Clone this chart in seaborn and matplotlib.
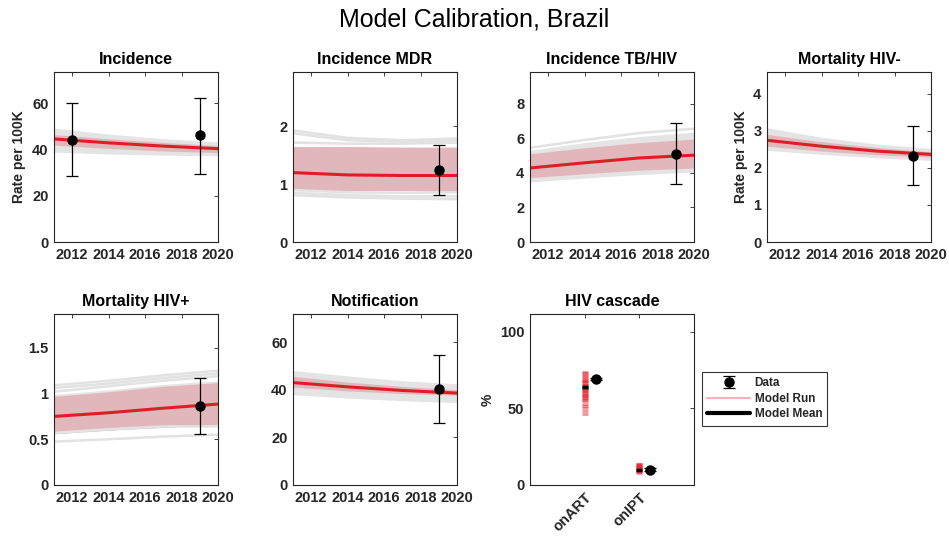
import numpy as np
import pandas as pd
import seaborn as sns
import matplotlib.pyplot as plt
from matplotlib.lines import Line2D

# model output years (coarse grid, curves are nearly straight)
years = [2011, 2014, 2017, 2020]

# Incidence
inc_mean = [44.5, 42.8, 41.4, 40.3]
inc_band_lo = [41.8, 40.4, 39.3, 38.6]
inc_band_hi = [46.4, 44.6, 43.0, 41.6]
inc_env_lo = [38.8, 38.0, 37.5, 37.2]
inc_env_hi = [49.2, 46.6, 44.6, 43.2]
inc_runs = []
inc_data_x = [2012, 2019]
inc_data = [43.9, 46.0]
inc_data_lo = [28.6, 29.5]
inc_data_hi = [60.0, 62.2]

# Incidence MDR
mdr_mean = [1.20, 1.16, 1.15, 1.15]
mdr_band_lo = [0.89, 0.89, 0.89, 0.88]
mdr_band_hi = [1.65, 1.65, 1.64, 1.64]
mdr_env_lo = [0.89, 0.89, 0.89, 0.88]
mdr_env_hi = [1.65, 1.65, 1.64, 1.64]
mdr_runs = [[1.93, 1.80, 1.76, 1.79],
            [1.88, 1.76, 1.73, 1.76],
            [1.72, 1.70, 1.70, 1.72],
            [0.90, 0.86, 0.85, 0.86],
            [0.85, 0.81, 0.79, 0.79],
            [0.81, 0.77, 0.75, 0.74]]
mdr_data_x = [2019]
mdr_data = [1.24]
mdr_data_lo = [0.81]
mdr_data_hi = [1.68]

# Incidence TB/HIV
tbhiv_mean = [4.28, 4.58, 4.86, 5.02]
tbhiv_band_lo = [3.72, 3.95, 4.15, 4.28]
tbhiv_band_hi = [5.10, 5.45, 5.75, 5.95]
tbhiv_env_lo = [3.47, 3.70, 3.90, 4.05]
tbhiv_env_hi = [5.30, 5.75, 6.10, 6.35]
tbhiv_runs = [[5.45, 5.90, 6.30, 6.55]]
tbhiv_data_x = [2019]
tbhiv_data = [5.07]
tbhiv_data_lo = [3.33]
tbhiv_data_hi = [6.90]

# Mortality HIV-
mneg_mean = [2.74, 2.58, 2.45, 2.36]
mneg_band_lo = [2.58, 2.45, 2.35, 2.29]
mneg_band_hi = [2.90, 2.70, 2.55, 2.43]
mneg_env_lo = [2.47, 2.36, 2.27, 2.20]
mneg_env_hi = [3.08, 2.82, 2.64, 2.52]
mneg_runs = []
mneg_data_x = [2019]
mneg_data = [2.31]
mneg_data_lo = [1.53]
mneg_data_hi = [3.12]

# Mortality HIV+
mpos_mean = [0.75, 0.79, 0.84, 0.885]
mpos_band_lo = [0.56, 0.60, 0.63, 0.66]
mpos_band_hi = [0.97, 1.02, 1.08, 1.12]
mpos_env_lo = [0.56, 0.60, 0.63, 0.66]
mpos_env_hi = [0.99, 1.04, 1.10, 1.14]
mpos_runs = [[1.09, 1.14, 1.20, 1.25],
             [1.06, 1.11, 1.17, 1.22],
             [1.02, 1.08, 1.14, 1.19],
             [0.57, 0.61, 0.64, 0.64],
             [0.475, 0.50, 0.53, 0.55]]
mpos_data_x = [2019]
mpos_data = [0.867]
mpos_data_lo = [0.56]
mpos_data_hi = [1.175]

# Notification
notif_mean = [43.0, 41.2, 39.7, 38.6]
notif_band_lo = [41.1, 39.5, 38.4, 37.7]
notif_band_hi = [45.6, 43.2, 41.4, 40.0]
notif_env_lo = [37.9, 36.5, 35.4, 34.6]
notif_env_hi = [48.1, 45.8, 43.8, 42.5]
notif_runs = []
notif_data_x = [2019]
notif_data = [40.5]
notif_data_lo = [26.2]
notif_data_hi = [54.6]

# HIV cascade
cascade_labels = ['onART', 'onIPT']
art_runs = [46, 48, 50, 51.5, 53, 54.5, 55.5, 56.5, 57, 58, 58.5, 59, 60, 60.5,
            61, 62, 62.5, 63, 63.5, 64, 65, 65.5, 66, 67, 67.5, 68, 69, 70,
            71, 72, 73, 74]
ipt_runs = [8, 8.5, 9, 9.5, 10, 10.5, 11, 11.5, 12, 12.5, 13, 13.5, 14]
cascade_mean = [64, 10]
cascade_data = [69, 10]

sns.set_theme(style='white')
plt.rcParams['font.family'] = ['Liberation Sans', 'DejaVu Sans']
plt.rcParams['axes.edgecolor'] = '#262626'
plt.rcParams['axes.linewidth'] = 0.8

RED = '#dc1f26'
BAND = '#e2b7bc'
ENV = '#e4e4e4'
RUN = '#e2e2e2'
TXT = '#262626'

fig = plt.figure(figsize=(9.49, 5.40), dpi=100)

W, H = 949, 540
def add_ax(left, top, w=164, h=170):
    return fig.add_axes([left / W, 1 - (top + h) / H, w / W, h / H])

def style_ax(ax, title, yticks, ylim, ylabel=None):
    ax.set_title(title, fontsize=11.5, fontweight='bold', color='black', pad=6)
    ax.set_ylim(*ylim)
    ax.set_yticks(yticks)
    ax.set_yticklabels([f'{t:g}' for t in yticks])
    ax.tick_params(direction='in', length=3, width=0.6, top=True, right=True,
                   labelsize=10.5, colors=TXT, pad=4)
    for lab in ax.get_xticklabels() + ax.get_yticklabels():
        lab.set_fontweight('bold')
    if ylabel:
        ax.set_ylabel(ylabel, fontsize=10, fontweight='bold', color=TXT)
    for s in ax.spines.values():
        s.set_visible(True)
        s.set_color(TXT)

data_handle = None

def time_panel(ax, title, mean, blo, bhi, elo, ehi, runs, dx, dy, dlo, dhi,
               yticks, ylim, ylabel=None):
    global data_handle
    ax.fill_between(years, elo, ehi, color=ENV, lw=0)
    for r in runs:
        sns.lineplot(x=years, y=r, ax=ax, color=RUN, lw=1.8)
    ax.fill_between(years, blo, bhi, color=BAND, lw=0)
    sns.lineplot(x=years, y=mean, ax=ax, color=RED, lw=2.2)
    err = [np.array(dy) - np.array(dlo), np.array(dhi) - np.array(dy)]
    h = ax.errorbar(dx, dy, yerr=err, fmt='o', color='black', ms=6.5,
                    capsize=4.5, elinewidth=0.9, capthick=0.9, zorder=5)
    if data_handle is None:
        data_handle = h
    ax.set_xlim(2011, 2020)
    ax.set_xticks([2012, 2014, 2016, 2018, 2020])
    style_ax(ax, title, yticks, ylim, ylabel)

ax1 = add_ax(54, 72)
time_panel(ax1, 'Incidence', inc_mean, inc_band_lo, inc_band_hi, inc_env_lo,
           inc_env_hi, inc_runs, inc_data_x, inc_data, inc_data_lo, inc_data_hi,
           [0, 20, 40, 60], (0, 73.4), 'Rate per 100K')

ax2 = add_ax(293, 72)
time_panel(ax2, 'Incidence MDR', mdr_mean, mdr_band_lo, mdr_band_hi, mdr_env_lo,
           mdr_env_hi, mdr_runs, mdr_data_x, mdr_data, mdr_data_lo, mdr_data_hi,
           [0, 1, 2], (0, 2.94))

ax3 = add_ax(530, 72)
time_panel(ax3, 'Incidence TB/HIV', tbhiv_mean, tbhiv_band_lo, tbhiv_band_hi,
           tbhiv_env_lo, tbhiv_env_hi, tbhiv_runs, tbhiv_data_x, tbhiv_data,
           tbhiv_data_lo, tbhiv_data_hi, [0, 2, 4, 6, 8], (0, 9.83))

ax4 = add_ax(767, 72)
time_panel(ax4, 'Mortality HIV-', mneg_mean, mneg_band_lo, mneg_band_hi,
           mneg_env_lo, mneg_env_hi, mneg_runs, mneg_data_x, mneg_data,
           mneg_data_lo, mneg_data_hi, [0, 1, 2, 3, 4], (0, 4.58), 'Rate per 100K')

ax5 = add_ax(54, 314, h=171)
time_panel(ax5, 'Mortality HIV+', mpos_mean, mpos_band_lo, mpos_band_hi,
           mpos_env_lo, mpos_env_hi, mpos_runs, mpos_data_x, mpos_data,
           mpos_data_lo, mpos_data_hi, [0, 0.5, 1, 1.5], (0, 1.87))

ax6 = add_ax(293, 314, h=171)
time_panel(ax6, 'Notification', notif_mean, notif_band_lo, notif_band_hi,
           notif_env_lo, notif_env_hi, notif_runs, notif_data_x, notif_data,
           notif_data_lo, notif_data_hi, [0, 20, 40, 60], (0, 71.8))

# HIV cascade
ax7 = add_ax(530, 314, h=171)
for pos, runs in zip([1, 2], [art_runs, ipt_runs]):
    ax7.hlines(runs, pos - 0.055, pos + 0.055, color='#e0101c', alpha=0.45,
               lw=2)
ax7.hlines(cascade_mean, np.array([1, 2]) - 0.055, np.array([1, 2]) + 0.055,
           color='black', lw=2.5, zorder=4)
ax7.errorbar(np.array([1, 2]) + 0.2, cascade_data, yerr=0.8, fmt='o',
             color='black', ms=6.5, capsize=4, elinewidth=0.9, zorder=5)
ax7.set_xlim(0, 3)
ax7.set_xticks([1, 2])
ax7.set_xticklabels(cascade_labels, rotation=45, ha='right',
                    rotation_mode='anchor')
style_ax(ax7, 'HIV cascade', [0, 50, 100], (0, 111.5), '%')

handles = [data_handle,
           Line2D([], [], color='#f5b3ba', lw=1.5),
           Line2D([], [], color='black', lw=3)]
leg = fig.legend(handles, ['Data', 'Model Run', 'Model Mean'],
                 loc='upper left', bbox_to_anchor=(702 / W, 1 - 372 / H),
                 prop={'weight': 'bold', 'size': 8.5}, frameon=True,
                 fancybox=False, edgecolor='black', handlelength=3.6,
                 borderpad=0.45, labelspacing=0.3, handletextpad=0.4,
                 borderaxespad=0)
leg.get_frame().set_linewidth(0.8)

fig.text(0.5, 1 - 20 / H, 'Model Calibration, Brazil', ha='center',
         va='center', fontsize=18, color='black')

fig.savefig('out.png', dpi=100)
